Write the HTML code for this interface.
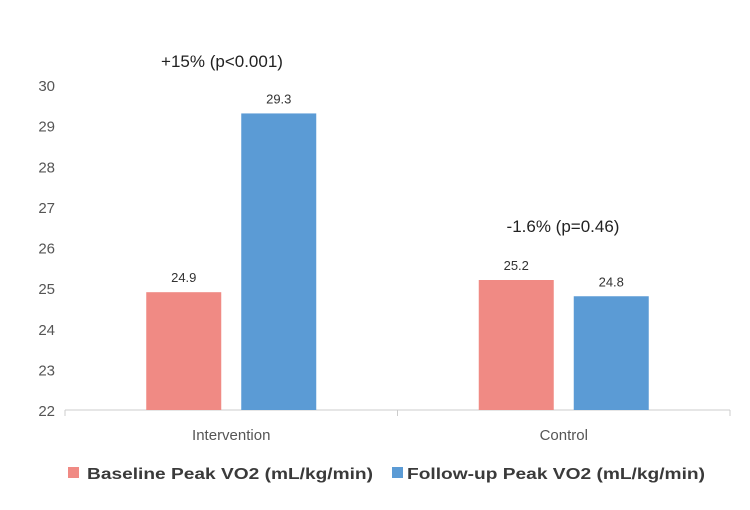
<!DOCTYPE html>
<html><head><meta charset="utf-8"><style>
body{margin:0;background:#fff;}
svg text{font-family:"Liberation Sans",sans-serif;}
</style></head><body>
<svg id="chart" width="750" height="505">
<g id="axis"></g><g id="bars"></g>
<text x="222" y="67" font-size="17" fill="#222" text-anchor="middle">+15% (p&lt;0.001)</text>
<text x="563" y="232" font-size="17" fill="#222" text-anchor="middle">-1.6% (p=0.46)</text>
<g>
<rect x="68" y="467" width="11" height="11" fill="#F08A84"/>
<text x="87" y="479" font-size="16" font-weight="bold" fill="#3a3a3a" textLength="286" lengthAdjust="spacingAndGlyphs">Baseline Peak VO2 (mL/kg/min)</text>
<rect x="392" y="467" width="11" height="11" fill="#5B9BD5"/>
<text x="407" y="479" font-size="16" font-weight="bold" fill="#3a3a3a" textLength="298" lengthAdjust="spacingAndGlyphs">Follow-up Peak VO2 (mL/kg/min)</text>
</g>
</svg>
<script>
const categories=["Intervention","Control"];
const baseline=[24.9,25.2];
const followup=[29.3,24.8];
const ticks=[22,23,24,25,26,27,28,29,30];
const NS="http://www.w3.org/2000/svg";
const y0=410,y1=85,vmin=22,vmax=30,xL=65,xR=730;
function y(v){return y0-(v-vmin)/(vmax-vmin)*(y0-y1);}
const cw=(xR-xL)/categories.length;
function mk(t,a,p){const e=document.createElementNS(NS,t);for(const k in a)e.setAttribute(k,a[k]);p.appendChild(e);return e;}
const ax=document.getElementById('axis'),bg=document.getElementById('bars');
ticks.forEach(t=>{const e=mk('text',{x:55,y:y(t)+6,'font-size':15,fill:'#555','text-anchor':'end'},ax);e.textContent=t;

});
const l=mk('line',{x1:xL,x2:xR,y1:y0,y2:y0,stroke:'#ccc'},ax);


for(let i=0;i<=categories.length;i++){const tk=mk('line',{x1:xL+i*cw,x2:xL+i*cw,y1:y0,y2:y0+6,stroke:'#ccc'},ax);

}
categories.forEach((c,i)=>{
const cx=xL+cw*(i+0.5);
const t=mk('text',{x:cx,y:440,'font-size':15,fill:'#555','text-anchor':'middle'},ax);t.textContent=c;


[[baseline,'#F08A84',-1,'baseline'],[followup,'#5B9BD5',1,'followup']].forEach(([arr,col,s,n])=>{
const bx=s<0?cx-10-75:cx+10;
const r=mk('rect',{x:bx,y:y(arr[i]),width:75,height:y0-y(arr[i]),fill:col},bg);


const lb=mk('text',{x:bx+37.5,y:y(arr[i])-10,'font-size':13,fill:'#333','text-anchor':'middle'},bg);lb.textContent=arr[i].toFixed(1);


});});
</script>
</body></html>
